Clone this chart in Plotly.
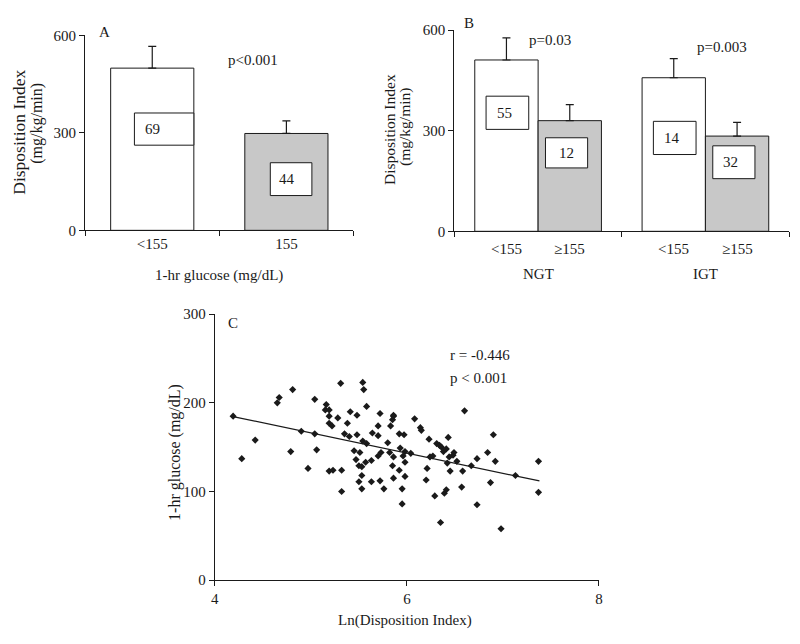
import numpy as np
import plotly.graph_objects as go

# ---------------- data ----------------
# Panel A
a_cats = ["<155", "155"]
a_vals = [499, 298]
a_err = [67, 39]
a_n = ["69", "44"]
a_p = "p<0.001"

# Panel B
b_groups = ["NGT", "IGT"]
b_low_vals = [511, 458]      # <155
b_low_err = [66, 57]
b_high_vals = [330, 284]     # >=155
b_high_err = [48, 41]
b_low_n = ["55", "14"]
b_high_n = ["12", "32"]
b_p = ["p=0.03", "p=0.003"]
b_sub = ["<155", "≥155"]

# Panel C
c_x = [4.19, 4.28, 4.42, 4.65, 4.67, 4.81, 4.79, 4.90, 4.97, 5.04,
       5.04, 5.06, 5.16, 5.15, 5.19, 5.19, 5.19, 5.22, 5.19, 5.23,
       5.28, 5.31, 5.32, 5.35, 5.38, 5.40, 5.41, 5.45, 5.47, 5.48,
       5.48, 5.50, 5.51, 5.53, 5.53, 5.50, 5.53, 5.32, 5.54, 5.55,
       5.58, 5.54, 5.58, 5.57, 5.63, 5.63, 5.64, 5.70, 5.72, 5.70,
       5.73, 5.70, 5.72, 5.76, 5.80, 5.83, 5.85, 5.86, 5.86, 5.82,
       5.86, 5.85, 5.86, 5.92, 5.95, 5.95, 5.92, 5.97, 5.93, 5.96,
       5.98, 5.98, 5.98, 6.04, 6.08, 6.14, 6.15, 6.23, 6.21, 6.20,
       6.24, 6.27, 6.31, 6.34, 6.36, 6.38, 6.41, 6.43, 6.44, 6.48,
       6.49, 6.52, 6.42, 6.45, 6.58, 6.60, 6.29, 6.39, 6.41, 6.35,
       6.57, 6.67, 6.73, 6.73, 6.84, 6.90, 6.92, 6.87, 6.98, 7.13,
       7.37, 7.37]
c_y = [185, 137, 158, 200, 206, 215, 145, 168, 126, 204,
       165, 147, 198, 192, 192, 185, 177, 174, 123, 124,
       183, 222, 124, 165, 177, 162, 190, 146, 136, 186,
       164, 129, 144, 128, 118, 111, 103, 100, 223, 215,
       196, 157, 154, 133, 135, 111, 166, 163, 188, 174,
       144, 140, 112, 103, 155, 174, 181, 185, 186, 144,
       139, 129, 115, 124, 103, 86, 165, 164, 149, 140,
       145, 133, 117, 143, 182, 172, 169, 159, 126, 113,
       139, 140, 154, 152, 150, 145, 148, 161, 139, 141,
       144, 134, 132, 123, 123, 191, 95, 98, 102, 65,
       105, 129, 137, 85, 144, 164, 134, 110, 58, 118,
       134, 99]
fit_intercept = 280.1
fit_slope = -22.8
fit_xrange = [4.19, 7.38]
c_stats = ["r = -0.446", "p < 0.001"]

# ---------------- styling ----------------
W, H = 800, 644
FONT = "Liberation Serif, Times New Roman, serif"
BLACK = "#1a1a1a"
GREY = "#c8c8c8"


def px(x):
    return x / W


def py(y):
    return 1 - y / H


fig = go.Figure()

axis_common = dict(showline=True, linecolor=BLACK, linewidth=1.2, ticks="outside",
                   ticklen=5, tickcolor=BLACK, tickwidth=1.2, showgrid=False,
                   zeroline=False, tickfont=dict(family=FONT, size=15, color=BLACK))

# Panel A bars
fig.add_trace(go.Bar(
    x=a_cats, y=a_vals, width=0.62,
    marker=dict(color=["white", GREY], line=dict(color=BLACK, width=1)),
    error_y=dict(type="data", symmetric=False, array=a_err, arrayminus=[0, 0],
                 color=BLACK, thickness=1.2, width=4),
    xaxis="x", yaxis="y", showlegend=False))

# Panel B bars
bw = 0.3785
fig.add_trace(go.Bar(
    x=b_groups, y=b_low_vals, width=bw, offset=-bw,
    marker=dict(color="white", line=dict(color=BLACK, width=1)),
    error_y=dict(type="data", symmetric=False, array=b_low_err, arrayminus=[0, 0],
                 color=BLACK, thickness=1.2, width=4),
    xaxis="x2", yaxis="y2", showlegend=False))
fig.add_trace(go.Bar(
    x=b_groups, y=b_high_vals, width=bw, offset=0,
    marker=dict(color=GREY, line=dict(color=BLACK, width=1)),
    error_y=dict(type="data", symmetric=False, array=b_high_err, arrayminus=[0, 0],
                 color=BLACK, thickness=1.2, width=4),
    xaxis="x2", yaxis="y2", showlegend=False))

# Panel C scatter + fit
fig.add_trace(go.Scatter(
    x=c_x, y=c_y, mode="markers",
    marker=dict(symbol="diamond", size=5.5, color=BLACK),
    xaxis="x3", yaxis="y3", showlegend=False))
fx = np.array(fit_xrange)
fig.add_trace(go.Scatter(
    x=fx, y=fit_intercept + fit_slope * fx, mode="lines",
    line=dict(color=BLACK, width=1.3),
    xaxis="x3", yaxis="y3", showlegend=False))

fig.update_layout(
    width=W, height=H, autosize=False,
    margin=dict(l=0, r=0, t=0, b=0),
    paper_bgcolor="white", plot_bgcolor="white",
    barmode="overlay",
    font=dict(family=FONT, size=15, color=BLACK),
    xaxis=dict(axis_common, domain=[px(82), px(353)], tickson="boundaries",
               anchor="y", type="category", range=[-0.5, 1.5]),
    yaxis=dict(axis_common, domain=[py(228), py(28)], range=[0, 600],
               tickvals=[0, 300, 600], anchor="x"),
    xaxis2=dict(axis_common, domain=[px(455), px(793)], tickson="boundaries",
                anchor="y2", type="category", range=[-0.5, 1.5], showticklabels=False),
    yaxis2=dict(axis_common, domain=[py(229), py(22.7)], range=[0, 600],
                tickvals=[0, 300, 600], anchor="x2"),
    xaxis3=dict(axis_common, domain=[px(213), px(601)], range=[4, 8],
                tickvals=[4, 6, 8], anchor="y3"),
    yaxis3=dict(axis_common, domain=[py(586.7), py(314)], range=[0, 300],
                tickvals=[0, 100, 200, 300], anchor="x3"),
)

ann = []
shapes = []


def txt(x, y, s, size=15, angle=0, xref="paper", yref="paper", xanchor="center"):
    ann.append(dict(x=x, y=y, xref=xref, yref=yref, text=s, showarrow=False,
                    textangle=angle, xanchor=xanchor, yanchor="middle",
                    font=dict(family=FONT, size=size, color=BLACK)))


def box(xref, yref, x0, x1, y0, y1):
    shapes.append(dict(type="rect", xref=xref, yref=yref, x0=x0, x1=x1, y0=y0, y1=y1,
                       line=dict(color=BLACK, width=1), fillcolor="white", layer="above"))


# Panel A annotations
txt(px(102), py(25), "A")
txt(px(252), py(53), a_p)
txt(px(15), py(127), "Disposition Index", size=17.5, angle=-90)
txt(px(33), py(118), "(mg/kg/min)", size=16, angle=-90)
txt(px(217), py(274), "1-hr glucose (mg/dL)", size=15)
box("x", "y", -0.133, 0.31, 262, 361)
box("x", "y", 1 - 0.12, 1 + 0.19, 107, 208)
txt(0, 311, a_n[0], xref="x", yref="y")
txt(1.004, 157, a_n[1], xref="x", yref="y")

# Panel B annotations
txt(px(470), py(15), "B")
txt(px(552), py(33), b_p[0])
txt(px(725), py(40), b_p[1])
txt(px(390), py(125), "Disposition Index", size=15.5, angle=-90)
txt(px(405), py(122), "(mg/kg/min)", size=15.5, angle=-90)
for gi, g in enumerate(b_groups):
    txt(gi - 0.19, 0, "", xref="x2", yref="y2")
    ann[-1].update(text=b_sub[0], y=py(247), yref="paper")
    txt(gi + 0.19, 0, "", xref="x2", yref="y2")
    ann[-1].update(text=b_sub[1], y=py(247), yref="paper")
    txt(gi, 0, "", xref="x2", yref="y2")
    ann[-1].update(text=g, y=py(273), yref="paper")
    box("x2", "y2", gi - 0.311, gi - 0.056,
        [304, 229][gi], [403, 328][gi])
    box("x2", "y2", gi + 0.044, gi + 0.296,
        [189, 157][gi], [279, 255][gi])
    txt(gi - 0.20, [353, 278][gi], b_low_n[gi], xref="x2", yref="y2")
    txt(gi + [0.169, 0.151][gi], [234, 206][gi], b_high_n[gi], xref="x2", yref="y2")

# Panel C annotations
txt(px(231), py(323), "C")
txt(px(448), py(356), c_stats[0], xanchor="left")
txt(px(448), py(379), c_stats[1], xanchor="left")
txt(px(172), py(456), "1-hr glucose (mg/dL)", size=16, angle=-90)
txt(px(405), py(628), "Ln(Disposition Index)", size=15)

fig.update_layout(annotations=ann, shapes=shapes)
fig.write_html("out.html", config={"displayModeBar": False},
               post_script="document.body.style.margin='0';document.body.style.padding='0';")
